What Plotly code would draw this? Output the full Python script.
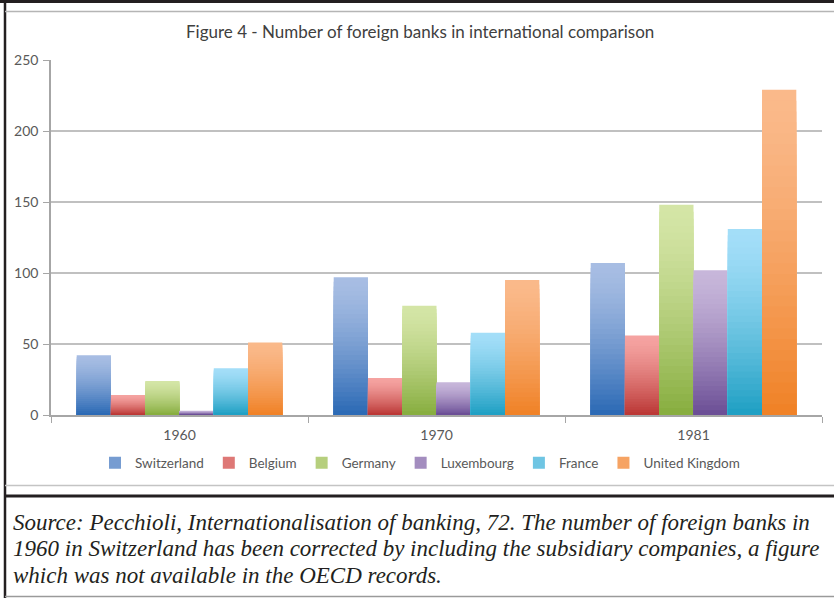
import plotly.graph_objects as go

# Data
years = ["1960", "1970", "1981"]
countries = ["Switzerland", "Belgium", "Germany", "Luxembourg", "France", "United Kingdom"]
switzerland = [42, 97, 107]
belgium = [14, 26, 56]
germany = [24, 77, 148]
luxembourg = [3, 23, 102]
france = [33, 58, 131]
united_kingdom = [51, 95, 229]

caption_lines = [
    "Source: Pecchioli, Internationalisation of banking, 72. The number of foreign banks in",
    "1960 in Switzerland has been corrected by including the subsidiary companies, a figure",
    "which was not available in the OECD records.",
]

series = [switzerland, belgium, germany, luxembourg, france, united_kingdom]

# gradient (top colour, bottom colour) for each country, Excel style
gradients = [
    ("#a7bde3", "#2c6ab5"),
    ("#f5a3a1", "#bb3836"),
    ("#d4e5a6", "#88ae40"),
    ("#c7b6da", "#6c4f96"),
    ("#a3def8", "#20a0c4"),
    ("#fab98a", "#f08227"),
]

N_SEG = 30  # overlapping bars used to fake a vertical gradient

W, H = 834, 598
ML, MR, MT, MB = 51, 12, 60, 183
PW, PH = W - ML - MR, H - MT - MB


def hex_rgb(h):
    h = h.lstrip("#")
    return tuple(int(h[i:i + 2], 16) for i in (0, 2, 4))


def mix(top, bottom, f):
    # f = 0 at top, 1 at bottom
    a, b = hex_rgb(top), hex_rgb(bottom)
    g = f ** 1.4
    c = [round(a[i] + (b[i] - a[i]) * g) for i in range(3)]
    return f"rgb({c[0]},{c[1]},{c[2]})"


def px(x):
    return (x - ML) / PW


def py(y):
    return (H - MB - y) / PH


fig = go.Figure()

for name, vals, (top, bottom) in zip(countries, series, gradients):
    # full bar first in the top colour, then shorter, darker bars over it
    for k in range(N_SEG):
        frac = (N_SEG - k) / N_SEG
        f = k / (N_SEG - 1)
        fig.add_trace(go.Bar(
            x=years,
            y=[v * frac for v in vals],
            offsetgroup=name,
            legendgroup=name,
            name=name,
            showlegend=(k == N_SEG // 2),
            marker=dict(color=mix(top, bottom, f), line=dict(width=0)),
            hoverinfo="all" if k == 0 else "skip",
        ))

# frame lines of the original page
frame = [
    ((0, 1.5), (W, 1.5), 3, "#231f20"),
    ((5, 0), (5, H), 2.5, "#231f20"),
    ((5, 11.5), (W, 11.5), 1.5, "#b5b5b5"),
    ((5, 485.5), (W, 485.5), 1.5, "#c4c4c4"),
    ((5, 496), (W, 496), 3, "#231f20"),
    ((5, 596.5), (W, 596.5), 1.5, "#9a9a9a"),
]
for (x0, y0), (x1, y1), w, c in frame:
    fig.add_shape(type="line", xref="paper", yref="paper",
                  x0=px(x0), y0=py(y0), x1=px(x1), y1=py(y1),
                  line=dict(color=c, width=w))

fig.add_annotation(
    text="Figure 4 - Number of foreign banks in international comparison",
    xref="paper", yref="paper", x=px(420), y=py(31),
    xanchor="center", yanchor="middle", showarrow=False,
    font=dict(family="Lato", size=17, color="#404040"),
)

for i, line in enumerate(caption_lines):
    fig.add_annotation(
        text=f"<i>{line}</i>",
        xref="paper", yref="paper", x=px(11), y=py(522 + 26.5 * i),
        xanchor="left", yanchor="middle", showarrow=False,
        font=dict(family="Liberation Serif", size=23, color="#231f20"),
    )

fig.update_layout(
    width=W, height=H,
    margin=dict(l=ML, r=MR, t=MT, b=MB),
    plot_bgcolor="white",
    paper_bgcolor="white",
    barmode="group",
    bargap=0.2,
    bargroupgap=0,
    font=dict(family="Lato", size=14, color="#595959"),
    legend=dict(
        orientation="h",
        x=px(420), xanchor="center",
        y=py(463), yanchor="middle",
        font=dict(size=13.5, color="#595959"),
        itemwidth=30,
        traceorder="normal",
    ),
    showlegend=True,
)

fig.update_xaxes(
    type="category",
    showline=True, linecolor="#a6a6a6", linewidth=1.5,
    ticks="outside", tickson="boundaries", ticklen=6, tickcolor="#a6a6a6",
    ticklabelstandoff=6,
    showgrid=False,
    tickfont=dict(size=14, color="#595959"),
)
fig.update_yaxes(
    range=[0, 250], dtick=50,
    showline=True, linecolor="#a6a6a6", linewidth=1.5,
    ticks="outside", ticklen=6, tickcolor="#a6a6a6",
    ticklabelstandoff=2,
    showgrid=True, gridcolor="#c0c0c0", gridwidth=1.5,
    zeroline=False,
    tickfont=dict(size=14, color="#595959"),
)

fig.write_html(
    "out.html",
    config={"displayModeBar": False},
    post_script="document.body.style.margin='0';document.body.style.overflow='hidden';",
)
